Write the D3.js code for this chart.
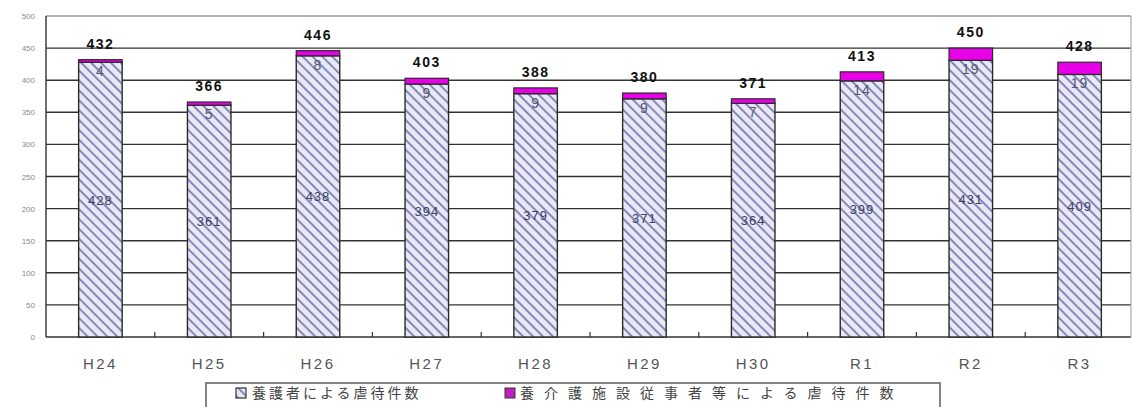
<!DOCTYPE html>
<html>
<head>
<meta charset="utf-8">
<script src="https://cdn.jsdelivr.net/npm/d3@7"></script>
<style>
body { margin:0; padding:0; background:white; }
</style>
</head>
<body>
<div id="chart"></div>
<script>
// data
var years = ["H24","H25","H26","H27","H28","H29","H30","R1","R2","R3"];
var carers = [428,361,438,394,379,371,364,399,431,409];      // 養護者
var facility = [4,5,8,9,9,9,7,14,19,19];                     // 養介護施設従事者等
var yTicks = [0,50,100,150,200,250,300,350,400,450,500];
var legendNames = ["養護者による虐待件数","養介護施設従事者等による虐待件数"];

var W = 1133, H = 407;
var svg = d3.select("#chart").append("svg")
  .attr("width", W).attr("height", H);

var defs = svg.append("defs");
var pat = defs.append("pattern")
  .attr("id","hatch")
  .attr("patternUnits","userSpaceOnUse")
  .attr("width", 8).attr("height", 7)
  .attr("patternTransform","rotate(45)");
pat.append("rect").attr("width",8).attr("height",7).attr("fill","#e8e8f6");
pat.append("line").attr("x1",0).attr("y1",1).attr("x2",8).attr("y2",1)
  .attr("stroke","#7478ad").attr("stroke-width",1.7);

var x = d3.scaleBand().domain(years).range([46, 1134]).paddingInner(0.6).paddingOuter(0.3);
var y = d3.scaleLinear().domain([0,500]).range([337,16]);

// grid lines
svg.selectAll("line.grid")
  .data(yTicks)
  .enter()
  .append("line")
  .attr("x1", 46).attr("x2", 1131)
  .attr("y1", function(d){ return y(d); })
  .attr("y2", function(d){ return y(d); })
  .attr("stroke", function(d){ return d==500 ? "#999" : "#333"; })
  .attr("stroke-width", 1.4);

// frame sides
svg.append("line").attr("x1",46).attr("x2",46).attr("y1",y(500)).attr("y2",y(0))
  .attr("stroke","#333").attr("stroke-width",1.4);
svg.append("line").attr("x1",1131).attr("x2",1131).attr("y1",y(500)).attr("y2",y(0))
  .attr("stroke","#aaa").attr("stroke-width",1.2);

// y tick labels
svg.selectAll("text.ytick")
  .data(yTicks)
  .enter()
  .append("text")
  .attr("x", 35)
  .attr("y", function(d){ return y(d)+3; })
  .attr("text-anchor","end")
  .attr("font-family","Liberation Sans, Arial, sans-serif")
  .attr("font-size","8px")
  .attr("fill","#8a8a8a")
  .text(function(d){ return d; });

// small ticks between categories
svg.selectAll("line.xtick")
  .data(years.slice(1))
  .enter()
  .append("line")
  .attr("x1", function(d){ return x(d) - x.step()*x.paddingInner()/2; })
  .attr("x2", function(d){ return x(d) - x.step()*x.paddingInner()/2; })
  .attr("y1", y(0)).attr("y2", y(0)-5)
  .attr("stroke","#333").attr("stroke-width",1.2);

// carer bars (hatched)
svg.selectAll("rect.carer")
  .data(carers)
  .enter()
  .append("rect")
  .attr("x", function(d,i){ return x(years[i]); })
  .attr("y", function(d){ return y(d); })
  .attr("width", x.bandwidth())
  .attr("height", function(d){ return y(0)-y(d); })
  .attr("fill","url(#hatch)")
  .attr("stroke","#2a2a2a").attr("stroke-width",1.4);

// facility bars (magenta)
svg.selectAll("rect.fac")
  .data(facility)
  .enter()
  .append("rect")
  .attr("x", function(d,i){ return x(years[i]); })
  .attr("y", function(d,i){ return y(carers[i]+d); })
  .attr("width", x.bandwidth())
  .attr("height", function(d,i){ return y(carers[i]) - y(carers[i]+d); })
  .attr("fill","#e800e8")
  .attr("stroke","#2a2a2a").attr("stroke-width",1.2);

// labels inside carer segment
svg.selectAll("text.carer")
  .data(carers)
  .enter()
  .append("text")
  .attr("x", function(d,i){ return x(years[i]) + x.bandwidth()/2; })
  .attr("y", function(d){ return y(d/2)+5; })
  .attr("text-anchor","middle")
  .attr("font-family","Liberation Sans, Arial, sans-serif")
  .attr("font-size","13px")
  .attr("letter-spacing","1px")
  .attr("fill","#3c3f66")
  .text(function(d){ return d; });

// facility labels (just below magenta part)
svg.selectAll("text.fac")
  .data(facility)
  .enter()
  .append("text")
  .attr("x", function(d,i){ return x(years[i]) + x.bandwidth()/2; })
  .attr("y", function(d,i){ return y(carers[i])+14; })
  .attr("text-anchor","middle")
  .attr("font-family","Liberation Sans, Arial, sans-serif")
  .attr("font-size","14px")
  .attr("letter-spacing","1px")
  .attr("fill","#55576f")
  .text(function(d){ return d; });

// totals
svg.selectAll("text.total")
  .data(carers)
  .enter()
  .append("text")
  .attr("x", function(d,i){ return x(years[i]) + x.bandwidth()/2; })
  .attr("y", function(d,i){ return y(d+facility[i]) - 11; })
  .attr("text-anchor","middle")
  .attr("font-family","Liberation Sans, Arial, sans-serif")
  .attr("font-weight","bold")
  .attr("font-size","14px")
  .attr("letter-spacing","1.5px")
  .attr("fill","#111")
  .text(function(d,i){ return d+facility[i]; });

// x labels
svg.selectAll("text.xl")
  .data(years)
  .enter()
  .append("text")
  .attr("x", function(d){ return x(d) + x.bandwidth()/2; })
  .attr("y", 369)
  .attr("text-anchor","middle")
  .attr("font-family","Liberation Sans, Arial, sans-serif")
  .attr("font-size","15px")
  .attr("letter-spacing","2.5px")
  .attr("fill","#555")
  .text(function(d){ return d; });

// legend
svg.append("rect")
  .attr("x",206).attr("y",383).attr("width",734).attr("height",40)
  .attr("fill","white").attr("stroke","#666").attr("stroke-width",1.6);

svg.append("rect").attr("x",236).attr("y",388).attr("width",10).attr("height",10)
  .attr("fill","url(#hatch)").attr("stroke","#333").attr("stroke-width",1.2);
svg.append("text").attr("x",252).attr("y",398)
  .attr("font-family","Noto Sans CJK JP, sans-serif")
  .attr("font-size","14px").attr("letter-spacing","3px")
  .attr("fill","#444")
  .text(legendNames[0]);

svg.append("rect").attr("x",505).attr("y",388).attr("width",10).attr("height",10)
  .attr("fill","#c020c0").attr("stroke","#333").attr("stroke-width",1);
svg.append("text").attr("x",520).attr("y",398)
  .attr("font-family","Noto Sans CJK JP, sans-serif")
  .attr("font-size","14px").attr("letter-spacing","10px")
  .attr("fill","#444")
  .text(legendNames[1]);
</script>
</body>
</html>
